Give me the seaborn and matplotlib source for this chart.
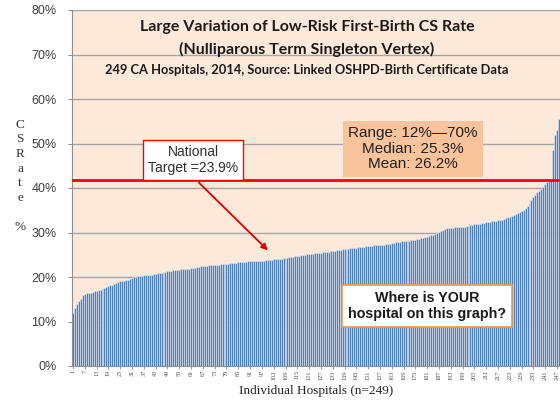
import matplotlib
matplotlib.use("Agg")
import matplotlib.pyplot as plt
import numpy as np
import pandas as pd
import seaborn as sns
from matplotlib.ticker import FuncFormatter

# CS rate (%) for each of the 249 hospitals, sorted low to high
cs_rate = [
    11.9, 13.0, 14.0, 14.5, 15.0, 16.0, 16.2, 16.3, 16.4, 16.5,
    16.7, 16.8, 16.9, 17.0, 17.1, 17.3, 17.5, 17.7, 17.9, 18.1,
    18.3, 18.5, 18.7, 18.8, 19.0, 19.1, 19.2, 19.3, 19.4, 19.5,
    19.7, 19.9, 20.0, 20.2, 20.3, 20.3, 20.4, 20.4, 20.5, 20.5,
    20.5, 20.6, 20.7, 20.8, 20.9, 21.0, 21.1, 21.2, 21.3, 21.3,
    21.4, 21.5, 21.5, 21.6, 21.6, 21.7, 21.7, 21.8, 21.8, 21.9,
    22.0, 22.0, 22.1, 22.2, 22.3, 22.4, 22.4, 22.5, 22.5, 22.6,
    22.6, 22.7, 22.7, 22.8, 22.8, 22.9, 22.9, 23.0, 23.0, 23.0,
    23.1, 23.1, 23.2, 23.2, 23.3, 23.3, 23.4, 23.4, 23.4, 23.5,
    23.5, 23.5, 23.6, 23.6, 23.6, 23.7, 23.7, 23.7, 23.8, 23.8,
    23.9, 23.9, 24.0, 24.0, 24.0, 24.1, 24.1, 24.2, 24.2, 24.3,
    24.4, 24.5, 24.6, 24.7, 24.8, 24.8, 24.9, 25.0, 25.0, 25.1,
    25.1, 25.2, 25.2, 25.3, 25.3, 25.4, 25.5, 25.6, 25.6, 25.7,
    25.7, 25.8, 25.8, 25.9, 26.0, 26.0, 26.1, 26.2, 26.3, 26.3,
    26.4, 26.5, 26.5, 26.6, 26.6, 26.7, 26.7, 26.8, 26.8, 26.9,
    26.9, 27.0, 27.0, 27.1, 27.1, 27.2, 27.2, 27.3, 27.3, 27.4,
    27.5, 27.5, 27.6, 27.7, 27.8, 27.8, 27.9, 28.0, 28.0, 28.1,
    28.1, 28.2, 28.3, 28.3, 28.4, 28.5, 28.6, 28.7, 28.8, 29.0,
    29.1, 29.2, 29.4, 29.5, 29.7, 29.9, 30.1, 30.3, 30.6, 30.8,
    30.9, 31.0, 31.1, 31.1, 31.2, 31.2, 31.2, 31.3, 31.3, 31.3,
    31.4, 31.5, 31.6, 31.7, 31.8, 31.8, 31.9, 32.0, 32.1, 32.2,
    32.3, 32.3, 32.4, 32.5, 32.5, 32.6, 32.7, 32.8, 32.9, 33.0,
    33.2, 33.4, 33.5, 33.7, 33.9, 34.1, 34.3, 34.6, 34.8, 35.0,
    35.5, 36.0, 36.6, 37.3, 38.0, 38.5, 39.0, 39.4, 39.8, 40.2,
    41.0, 41.3, 41.6, 42.0, 48.5, 52.0, 53.0, 55.5, 70.0,
]
hospital_no = list(range(1, len(cs_rate) + 1))
tick_labels = hospital_no[::6]

# red reference line as drawn on the slide, and the arrow target point
line_level = 41.8
arrow_from = (64, 41.2)
arrow_to = (99, 26.0)

title_lines = [
    "Large Variation of Low-Risk First-Birth CS Rate",
    "(Nulliparous Term Singleton Vertex)",
]
subtitle = "249 CA Hospitals, 2014, Source: Linked OSHPD-Birth Certificate Data"
stats_text = "Range: 12%\u201470%\nMedian: 25.3%\nMean: 26.2%"
target_text = "National\nTarget =23.9%"
question_text = "Where is YOUR\nhospital on this graph?"


def main():
    sns.set_style("white")
    plt.rcParams["font.family"] = ["Liberation Sans", "DejaVu Sans"]

    df = pd.DataFrame({"hospital": hospital_no, "rate": cs_rate})

    fig = plt.figure(figsize=(5.6, 4), dpi=100)
    fig.patch.set_facecolor("white")
    ax = fig.add_axes([72 / 560, 34 / 400, 488 / 560, 356 / 400])
    ax.set_facecolor("#FDE9D9")

    sns.barplot(data=df, x="hospital", y="rate", color="#4F81BD", saturation=1,
                width=1.0, ax=ax, edgecolor="#E4E9F2", linewidth=0.4)

    ax.set_xlim(-0.5, 247.5)
    ax.set_ylim(0, 80)
    ax.set_yticks(np.arange(0, 81, 10))
    ax.yaxis.set_major_formatter(FuncFormatter(lambda v, _: f"{v:.0f}%"))
    ax.yaxis.grid(True, color="#A6A6A6", linewidth=1)
    ax.set_axisbelow(True)
    ax.tick_params(axis="y", labelsize=9, colors="#909090", length=3, width=0.8,
                   pad=8, left=True)
    for lab in ax.get_yticklabels():
        lab.set_color("#404040")

    ax.set_xticks([h - 1 for h in tick_labels])
    ax.set_xticklabels([str(h) for h in tick_labels], rotation=90, fontsize=4.5,
                       family="Liberation Serif")
    ax.tick_params(axis="x", length=2, width=0.6, colors="#909090", pad=1, bottom=True)
    for lab in ax.get_xticklabels():
        lab.set_color("#505050")

    ax.set_xlabel("Individual Hospitals (n=249)", family="Liberation Serif",
                  fontsize=9.5, labelpad=4)
    ax.set_ylabel("")

    for side in ["top", "right"]:
        ax.spines[side].set_visible(False)
    for side in ["left", "bottom"]:
        ax.spines[side].set_color("#909090")
        ax.spines[side].set_linewidth(0.8)

    # stacked vertical y label
    fig.text(20 / 560, 1 - 176 / 400, "C\nS\nR\na\nt\ne\n\n%", family="Liberation Serif",
             fontsize=9.5, ha="center", va="center", linespacing=1.3, color="#303030")

    # titles inside plot area
    fig.text(307 / 560, 1 - 27 / 400, title_lines[0], family="Lato", weight="bold",
             fontsize=11.5, ha="center", va="center", color="#1a1a1a")
    fig.text(307 / 560, 1 - 49 / 400, title_lines[1], family="Lato", weight="bold",
             fontsize=11.5, ha="center", va="center", color="#1a1a1a")
    fig.text(307 / 560, 1 - 70 / 400, subtitle, family="Lato", weight="bold",
             fontsize=9.3, ha="center", va="center", color="#1a1a1a")

    # red line and arrow
    ax.axhline(line_level, xmin=0, xmax=0.995, color="#FF0000", linewidth=2, zorder=4)
    ax.annotate("", xy=arrow_to, xytext=arrow_from,
                arrowprops=dict(arrowstyle="-|>", color="#E00000", lw=1.3,
                                mutation_scale=9, shrinkA=0, shrinkB=0), zorder=5)

    ax.text(0.248, 0.579, target_text, transform=ax.transAxes, fontsize=10,
            ha="center", va="center", linespacing=1.15, color="#303030", zorder=6,
            bbox=dict(boxstyle="square,pad=0.35", fc="white", ec="#FF0000", lw=1))

    ax.text(0.699, 0.610, stats_text, transform=ax.transAxes, fontsize=11,
            ha="center", va="center", linespacing=1.15, color="#202020", zorder=3,
            bbox=dict(boxstyle="square,pad=0.33", fc="#F9C49C", ec="none"))

    ax.text(0.727, 0.169, question_text, transform=ax.transAxes, fontsize=10.3,
            weight="bold", ha="center", va="center", linespacing=1.2, color="#1a1a1a",
            zorder=6, bbox=dict(boxstyle="square,pad=0.4", fc="white", ec="#F79646", lw=1.2))

    fig.savefig("out.png", dpi=100)


if __name__ == "__main__":
    main()
